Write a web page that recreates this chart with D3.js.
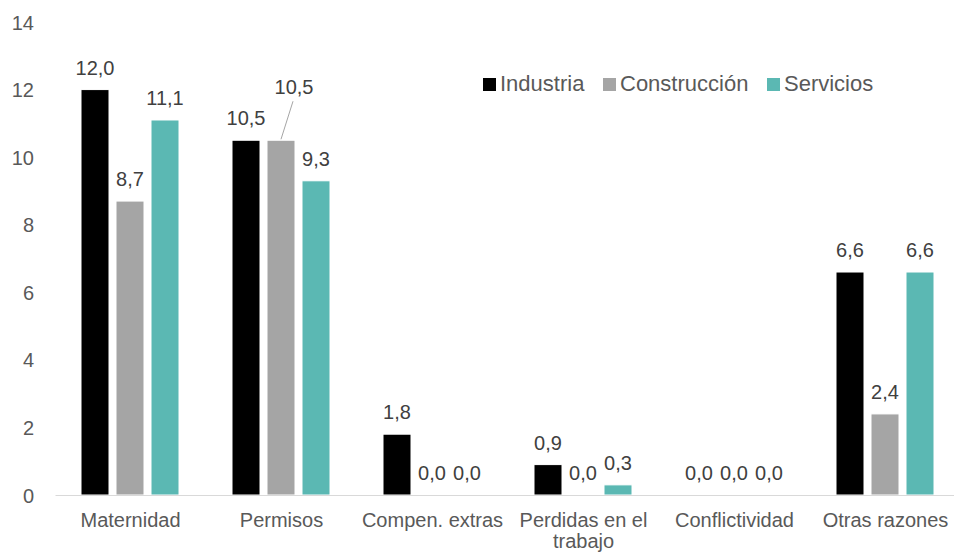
<!DOCTYPE html>
<html>
<head>
<meta charset="utf-8">
<script src="https://cdn.jsdelivr.net/npm/d3@7"></script>
<style>
  body { margin: 0; background: #fff; }
  svg { font-family: "Liberation Sans", Arial, sans-serif; display: block; }
</style>
</head>
<body>
<svg id="chart" width="954" height="553"></svg>
<script>
var categories = ["Maternidad", "Permisos", "Compen. extras", "Perdidas en el trabajo", "Conflictividad", "Otras razones"];
var series = ["Industria", "Construcción", "Servicios"];
var industria = [12.0, 10.5, 1.8, 0.9, 0.0, 6.6];
var construccion = [8.7, 10.5, 0.0, 0.0, 0.0, 2.4];
var servicios = [11.1, 9.3, 0.0, 0.3, 0.0, 6.6];
var yTicks = [0, 2, 4, 6, 8, 10, 12, 14];
var colors = ["#000000", "#a5a5a5", "#5bb8b3"];

var values = [industria, construccion, servicios];
var svg = d3.select("#chart");

var x0 = d3.scaleBand().domain(categories).range([55, 961]);
var x1 = d3.scaleBand().domain(series).range([26, 124]).paddingInner(0.2);
var y = d3.scaleLinear().domain([0, 14]).range([495, 22]);

// y axis labels, no line
var yAxis = svg.append("g")
    .attr("transform", "translate(34,0)")
    .call(d3.axisLeft(y).tickValues(yTicks).tickSize(0).tickPadding(0));
yAxis.select(".domain").remove();
yAxis.selectAll("text")
    .attr("fill", "#595959")
    .style("font-size", "20px")
    .attr("dy", "0.35em");

// bars
var groups = svg.append("g").selectAll("g")
    .data(categories)
  .enter().append("g")
    .attr("transform", function(d) { return "translate(" + x0(d) + ",0)"; });

function rows(d, i) {
  return series.map(function(s, j) { return {s: s, j: j, v: values[j][i], c: i}; });
}

groups.selectAll("rect")
    .data(rows)
  .enter().append("rect")
    .attr("x", function(d) { return x1(d.s); })
    .attr("width", x1.bandwidth())
    .attr("y", function(d) { return y(d.v); })
    .attr("height", function(d) { return y(0) - y(d.v); })
    .attr("fill", function(d) { return colors[d.j]; })
    .attr("stroke", "#ffffff")
    .attr("stroke-width", 1);

// value labels (Permisos / Construcción label is pulled up with a leader line)
groups.selectAll("text.val")
    .data(rows)
  .enter().append("text")
    .attr("class", "val")
    .attr("x", function(d) {
      var cx = x1(d.s) + x1.bandwidth() / 2;
      return (d.c === 1 && d.j === 1) ? cx + 13 : cx;
    })
    .attr("y", function(d) {
      return (d.c === 1 && d.j === 1) ? y(d.v) - 46 : y(d.v) - 15;
    })
    .attr("text-anchor", "middle")
    .attr("fill", "#404040")
    .style("font-size", "20px")
    .text(function(d) { return d3.format(".1f")(d.v).replace(".", ","); });

svg.append("line")
    .attr("x1", x0(categories[1]) + x1(series[1]) + x1.bandwidth() / 2)
    .attr("y1", y(construccion[1]) - 1)
    .attr("x2", x0(categories[1]) + x1(series[1]) + x1.bandwidth() / 2 + 12)
    .attr("y2", y(construccion[1]) - 39)
    .attr("stroke", "#a5a5a5")
    .attr("stroke-width", 1);

// x axis
var xAxis = svg.append("g")
    .attr("transform", "translate(0," + y(0) + ")")
    .call(d3.axisBottom(x0).tickSize(0).tickPadding(0));
xAxis.select(".domain").attr("stroke", "#d9d9d9").attr("stroke-width", 1);
xAxis.selectAll("text").remove();
xAxis.selectAll(".tick").each(function(d) {
  var lines = d === "Perdidas en el trabajo" ? ["Perdidas en el", "trabajo"] : [d];
  var t = d3.select(this).append("text")
      .attr("fill", "#595959")
      .attr("text-anchor", "middle")
      .style("font-size", "20px");
  lines.forEach(function(l, k) {
    t.append("tspan").attr("x", 0).attr("y", 32 + k * 21).text(l);
  });
});

// legend
var legendX = [483, 603, 767];
var legend = svg.append("g").selectAll("g")
    .data(series)
  .enter().append("g")
    .attr("transform", function(d, i) { return "translate(" + legendX[i] + ",78)"; });
legend.append("rect")
    .attr("width", 13).attr("height", 13)
    .attr("fill", function(d, i) { return colors[i]; });
legend.append("text")
    .attr("x", 17).attr("y", 13)
    .attr("fill", "#595959")
    .style("font-size", "22px")
    .text(function(d) { return d; });
</script>
</body>
</html>
